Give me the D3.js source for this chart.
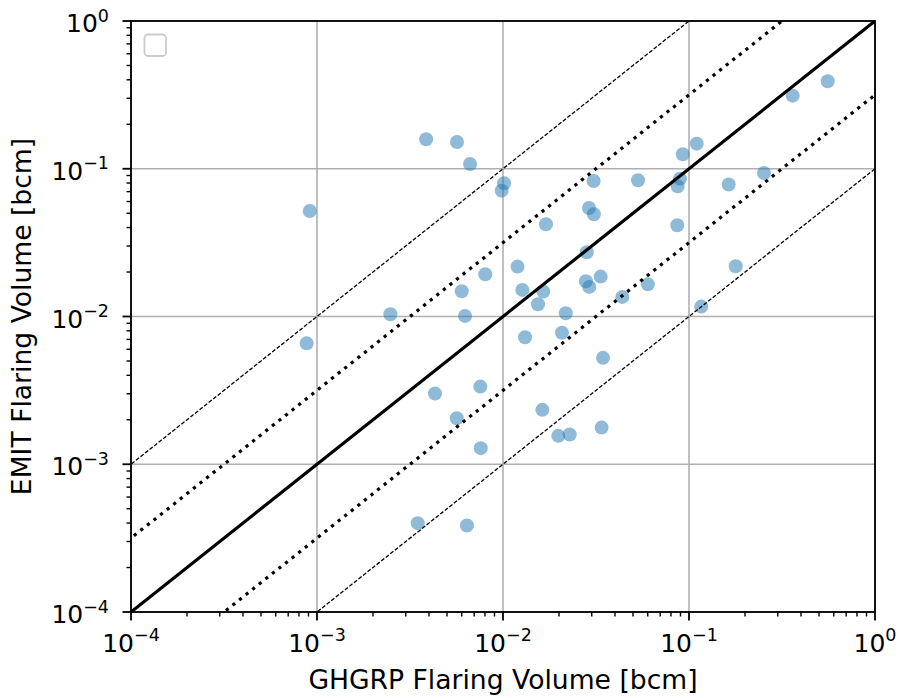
<!DOCTYPE html>
<html>
<head>
<meta charset="utf-8">
<script src="https://cdn.jsdelivr.net/npm/d3@7"></script>
<style>
  html, body { margin: 0; padding: 0; background: #fff; }
  svg { display: block; font-family: "DejaVu Sans", sans-serif; }
</style>
</head>
<body>
<svg id="chart" width="900" height="698"></svg>
<script>
// GHGRP flaring volume (x, bcm)
const ghgrp = [
  9.14e-4, 8.8e-4, 2.48e-3, 3.86e-3, 5.66e-3, 6.65e-3, 0.01013, 9.84e-3, 0.01702, 0.01197,
  8.03e-3, 6.0e-3, 0.0127, 0.01647, 0.01542, 6.25e-3, 0.02176, 0.02076, 0.01314, 0.110,
  0.0926, 0.0307, 0.0532, 0.0894, 0.0869, 0.1634, 0.0290, 0.0308, 0.0865, 0.0282,
  0.1783, 0.0279, 0.0335, 0.0291, 0.0601, 0.0438, 0.1164, 0.0345, 4.31e-3, 7.55e-3,
  5.64e-3, 7.59e-3, 0.01627, 0.01983, 0.02284, 0.0339, 3.48e-3, 6.40e-3, 0.5568, 0.361,
  0.2530
];
// EMIT flaring volume (y, bcm)
const emit = [
  0.0518, 6.58e-3, 0.01036, 0.1583, 0.1518, 0.1078, 0.0798, 0.0711, 0.0421, 0.02176,
  0.01933, 0.01483, 0.01514, 0.01474, 0.01211, 0.01009, 0.01053, 7.77e-3, 7.24e-3, 0.1479,
  0.1253, 0.0827, 0.0836, 0.0857, 0.0762, 0.0783, 0.0543, 0.0492, 0.0415, 0.0272,
  0.0219, 0.01733, 0.01862, 0.01586, 0.0165, 0.01357, 0.01167, 5.25e-3, 3.01e-3, 3.355e-3,
  2.05e-3, 1.285e-3, 2.334e-3, 1.557e-3, 1.589e-3, 1.771e-3, 3.995e-4, 3.85e-4, 0.391, 0.3124,
  0.0936
];
const axisDomain = [1e-4, 1];
const majorTicks = [1e-4, 1e-3, 1e-2, 1e-1, 1];
const tickExponents = ["−4", "−3", "−2", "−1", "0"];
// reference lines: ratio EMIT/GHGRP and style
const refRatios = [1, Math.sqrt(10), 1 / Math.sqrt(10), 10, 0.1];
const refStyles = ["solid", "dotted", "dotted", "dashed", "dashed"];
const xLabel = "GHGRP Flaring Volume [bcm]";
const yLabel = "EMIT Flaring Volume [bcm]";

const svg = d3.select("#chart");
const margin = { left: 131, top: 21, right: 25, bottom: 86 };
const W = 900, H = 698;
const x = d3.scaleLog().domain(axisDomain).range([margin.left, W - margin.right]);
const y = d3.scaleLog().domain(axisDomain).range([H - margin.bottom, margin.top]);
const x0 = x.range()[0], x1 = x.range()[1], y0 = y.range()[0], y1 = y.range()[1];

svg.append("defs").append("clipPath").attr("id", "clip")
  .append("rect").attr("x", x0).attr("y", y1).attr("width", x1 - x0).attr("height", y0 - y1);

// grid
const grid = svg.append("g");
majorTicks.forEach(t => {
  grid.append("line").attr("x1", x(t)).attr("x2", x(t)).attr("y1", y1).attr("y2", y0)
    .attr("stroke", "#b0b0b0").attr("stroke-width", 1.6);
  grid.append("line").attr("y1", y(t)).attr("y2", y(t)).attr("x1", x0).attr("x2", x1)
    .attr("stroke", "#b0b0b0").attr("stroke-width", 1.6);
});

const plot = svg.append("g").attr("clip-path", "url(#clip)");

// points
plot.append("g").selectAll("circle").data(ghgrp.map((g, i) => [g, emit[i]]))
  .join("circle")
  .attr("cx", d => x(d[0])).attr("cy", d => y(d[1])).attr("r", 7)
  .attr("fill", "#1f77b4").attr("fill-opacity", 0.5);

// reference lines
refRatios.forEach((r, i) => {
  const st = refStyles[i];
  const xs = [axisDomain[0] / 100, axisDomain[1] * 100];
  const line = plot.append("line")
    .attr("x1", x(xs[0])).attr("y1", y(xs[0] * r))
    .attr("x2", x(xs[1])).attr("y2", y(xs[1] * r))
    .attr("stroke", "#000");
  if (st === "solid") line.attr("stroke-width", 3.2);
  else if (st === "dotted") line.attr("stroke-width", 3.2).attr("stroke-dasharray", "3.2 5.2");
  else line.attr("stroke-width", 1.3).attr("stroke-dasharray", "4 1.8");
});

// spines
svg.append("rect").attr("x", x0).attr("y", y1).attr("width", x1 - x0).attr("height", y0 - y1)
  .attr("fill", "none").attr("stroke", "#000").attr("stroke-width", 1.8);

// ticks
const minor = [];
for (let e = -4; e < 0; e++) for (let m = 2; m <= 9; m++) minor.push(m * Math.pow(10, e));
const tk = svg.append("g").attr("stroke", "#000");
majorTicks.forEach(t => {
  tk.append("line").attr("x1", x(t)).attr("x2", x(t)).attr("y1", y0).attr("y2", y0 + 8.5).attr("stroke-width", 1.8);
  tk.append("line").attr("y1", y(t)).attr("y2", y(t)).attr("x1", x0).attr("x2", x0 - 8.5).attr("stroke-width", 1.8);
});
minor.forEach(t => {
  tk.append("line").attr("x1", x(t)).attr("x2", x(t)).attr("y1", y0).attr("y2", y0 + 4.5).attr("stroke-width", 1.4);
  tk.append("line").attr("y1", y(t)).attr("y2", y(t)).attr("x1", x0).attr("x2", x0 - 4.5).attr("stroke-width", 1.4);
});

// tick labels
const fs = 25;
function tickLabel(g, t, i) {
  g.append("tspan").text("10");
  g.append("tspan").text(tickExponents[i]).attr("font-size", fs * 0.7).attr("dy", -fs * 0.42);
}
majorTicks.forEach((t, i) => {
  const tx = svg.append("text").attr("x", x(t)).attr("y", 651.5)
    .attr("text-anchor", "middle").attr("font-size", fs).attr("fill", "#000");
  tickLabel(tx, t, i);
  const ty = svg.append("text").attr("x", 109).attr("y", y(t) + 11)
    .attr("text-anchor", "end").attr("font-size", fs).attr("fill", "#000");
  tickLabel(ty, t, i);
});

// axis labels
svg.append("text").attr("x", (x0 + x1) / 2).attr("y", 689).attr("text-anchor", "middle")
  .attr("font-size", 26.6).attr("fill", "#000").text(xLabel);
svg.append("text").attr("transform", `translate(31,${(y0 + y1) / 2}) rotate(-90)`)
  .attr("text-anchor", "middle").attr("font-size", 26.6).attr("fill", "#000").text(yLabel);

// empty legend box
svg.append("rect").attr("x", 144.5).attr("y", 34.5).attr("width", 21.5).attr("height", 21.5)
  .attr("rx", 3.5).attr("fill", "#fff").attr("fill-opacity", 0.8)
  .attr("stroke", "#cccccc").attr("stroke-width", 1.8);
</script>
</body>
</html>
